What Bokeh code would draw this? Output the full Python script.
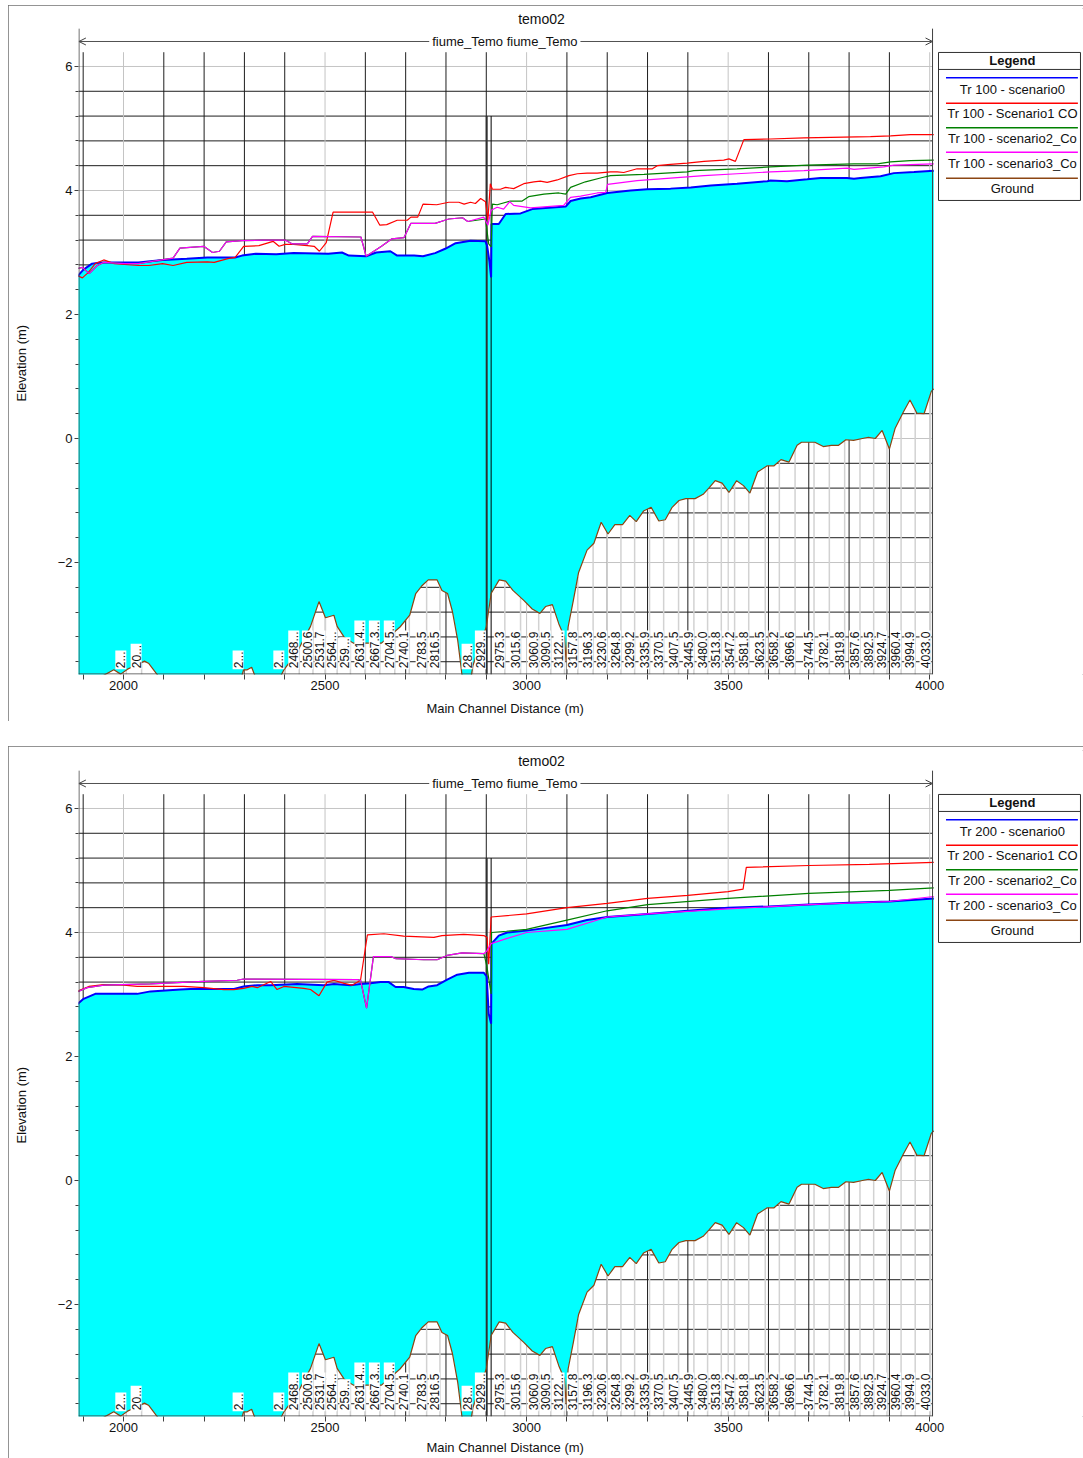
import numpy as np
from bokeh.plotting import figure
from bokeh.layouts import column
from bokeh.models import Range1d, FixedTicker, Label, Arrow, OpenHead
from bokeh.core.properties import value
from bokeh.embed import file_html
from bokeh.resources import INLINE

FONT = "Liberation Sans"

# ------------------------------------------------------------------ data
chart_title = "temo02"
river_label = "fiume_Temo fiume_Temo"
x_axis_label = "Main Channel Distance (m)"
y_axis_label = "Elevation (m)"

x_major_ticks = [2000, 2500, 3000, 3500, 4000]
x_minor_ticks = [1900, 2100, 2200, 2300, 2400, 2600, 2700, 2800, 2900,
                 3100, 3200, 3300, 3400, 3600, 3700, 3800, 3900]
y_major_ticks = [-2, 0, 2, 4, 6]
y_minor_ticks = [-3.6, -3.2, -2.8, -2.4, -1.6, -1.2, -0.8, -0.4, 0.4, 0.8,
                 1.2, 1.6, 2.4, 2.8, 3.2, 3.6, 4.4, 4.8, 5.2, 5.6]

station_labels = ["2...", "20...", "2...", "2...", "2468...", "2500.6", "2531.7",
                  "2564...", "259...", "2631.4...", "2667.3...", "2704.5...",
                  "2740.1", "2783.5", "2816.5", "28...", "2929...", "2975.3",
                  "3015.6", "3060.9", "3090.5", "3122...", "3157.8", "3196.3",
                  "3230.6", "3264.8", "3299.2", "3335.9", "3370.5", "3407.5",
                  "3445.9", "3480.0", "3513.8", "3547.2", "3581.8", "3623.5",
                  "3658.2", "3696.6", "3744.5", "3782.1", "3819.8", "3857.6",
                  "3892.5", "3924.7", "3960.4", "3994.9", "4033.0"]
station_dist = [2007, 2045, 2298, 2399, 2436, 2470, 2501, 2530, 2563, 2600,
                2636, 2673, 2709, 2752, 2785, 2866, 2899, 2946, 2985, 3030,
                3060, 3094, 3127, 3165, 3200, 3234, 3268, 3305, 3340, 3377,
                3415, 3449, 3483, 3516, 3551, 3592, 3627, 3666, 3713, 3751,
                3789, 3827, 3861, 3894, 3929, 3964, 4002]

weir_dist = [2901, 2912]
weir_top = 5.2

ground = [(1885, -4.6), (1945, -4.0), (1951, -3.82), (1976, -3.73), (1993, -3.8),
          (2010, -3.72), (2030, -3.66), (2052, -3.59), (2063, -3.63), (2085, -3.82),
          (2100, -4.2), (2280, -4.2), (2294, -3.82), (2298, -3.73), (2307, -3.73),
          (2318, -3.69), (2325, -3.81), (2340, -4.1), (2380, -4.1), (2391, -3.82),
          (2398, -3.73), (2430, -3.45), (2464, -3.03), (2485, -2.63), (2501, -2.89),
          (2522, -2.85), (2530, -3.03), (2547, -3.2), (2570, -3.3), (2600, -3.3),
          (2640, -3.3), (2686, -3.04), (2710, -2.85), (2725, -2.5), (2741, -2.37),
          (2756, -2.28), (2778, -2.28), (2790, -2.45), (2804, -2.5), (2816, -2.79),
          (2829, -3.25), (2838, -3.72), (2842, -3.95), (2858, -4.0), (2863, -3.82),
          (2867, -3.66), (2885, -3.3), (2900, -3.04), (2912, -2.5), (2932, -2.28),
          (2948, -2.3), (2966, -2.45), (2993, -2.61), (3014, -2.75), (3033, -2.82),
          (3047, -2.71), (3064, -2.68), (3080, -2.99), (3094, -3.2), (3098, -3.6),
          (3103, -3.04), (3116, -2.61), (3129, -2.16), (3150, -1.8), (3167, -1.69),
          (3185, -1.35), (3202, -1.54), (3219, -1.39), (3238, -1.39), (3256, -1.24),
          (3272, -1.34), (3290, -1.17), (3309, -1.11), (3328, -1.33), (3344, -1.31),
          (3361, -1.11), (3378, -1.0), (3395, -0.97), (3418, -0.97), (3438, -0.9),
          (3452, -0.8), (3468, -0.68), (3485, -0.72), (3502, -0.87), (3521, -0.68),
          (3538, -0.76), (3554, -0.88), (3573, -0.54), (3597, -0.44), (3614, -0.44),
          (3631, -0.34), (3651, -0.38), (3671, -0.11), (3682, -0.06), (3715, -0.06),
          (3736, -0.13), (3756, -0.11), (3774, -0.11), (3792, -0.02), (3811, -0.03),
          (3833, 0.0), (3848, 0.02), (3865, 0.0), (3882, 0.13), (3900, -0.17),
          (3914, 0.16), (3934, 0.42), (3951, 0.62), (3968, 0.41), (3986, 0.40),
          (4004, 0.76), (4010, 0.80)]

# ---- Tr 100 water surfaces
ws100_s0 = [(1885, 2.61), (1900, 2.72), (1922, 2.82), (1943, 2.84), (2037, 2.84),
            (2097, 2.88), (2157, 2.90), (2208, 2.92), (2277, 2.92), (2294, 2.95),
            (2328, 2.98), (2379, 2.97), (2422, 2.99), (2508, 2.98), (2542, 3.00),
            (2559, 2.95), (2602, 2.94), (2627, 3.00), (2662, 3.02), (2679, 2.95),
            (2721, 2.95), (2743, 2.94), (2773, 2.99), (2798, 3.06), (2824, 3.15),
            (2861, 3.19), (2898, 3.18), (2902, 3.11), (2908, 2.85), (2912, 2.60),
            (2913, 3.46), (2931, 3.46), (2948, 3.62), (2985, 3.63), (3014, 3.70),
            (3097, 3.74), (3109, 3.83), (3134, 3.87), (3159, 3.89), (3200, 3.96),
            (3258, 4.00), (3299, 4.02), (3357, 4.03), (3407, 4.05), (3457, 4.08),
            (3522, 4.11), (3597, 4.15), (3605, 4.16), (3646, 4.15), (3696, 4.18),
            (3729, 4.20), (3795, 4.20), (3812, 4.19), (3828, 4.20), (3878, 4.23),
            (3911, 4.28), (3961, 4.30), (4010, 4.32)]
ws100_s1 = [(1885, 2.63), (1898, 2.59), (1913, 2.68), (1930, 2.82), (1951, 2.88),
            (1977, 2.82), (2037, 2.79), (2063, 2.79), (2097, 2.82), (2123, 2.79),
            (2157, 2.84), (2208, 2.85), (2225, 2.84), (2259, 2.90), (2277, 2.92),
            (2298, 3.10), (2336, 3.11), (2371, 3.18), (2386, 3.10), (2401, 3.13),
            (2422, 3.13), (2456, 3.11), (2473, 3.10), (2486, 3.02), (2503, 3.16),
            (2520, 3.65), (2618, 3.65), (2636, 3.44), (2653, 3.45), (2679, 3.52),
            (2704, 3.52), (2713, 3.57), (2730, 3.57), (2743, 3.78), (2777, 3.77),
            (2807, 3.81), (2832, 3.81), (2845, 3.78), (2861, 3.81), (2873, 3.79),
            (2886, 3.87), (2898, 3.82), (2904, 3.52), (2910, 4.11), (2915, 4.02),
            (2935, 4.02), (2948, 4.05), (2968, 4.03), (2993, 4.11), (3018, 4.14),
            (3034, 4.15), (3051, 4.13), (3076, 4.17), (3105, 4.24), (3126, 4.27),
            (3150, 4.28), (3175, 4.28), (3208, 4.30), (3225, 4.30), (3241, 4.29),
            (3274, 4.35), (3312, 4.35), (3324, 4.40), (3357, 4.42), (3398, 4.44),
            (3440, 4.47), (3489, 4.49), (3502, 4.51), (3518, 4.47), (3539, 4.82),
            (3605, 4.83), (3688, 4.85), (3853, 4.87), (3903, 4.88), (3952, 4.90),
            (4010, 4.90)]
ws100_s2 = [(1885, 2.74), (1898, 2.76), (1915, 2.66), (1935, 2.79), (1951, 2.84),
            (2003, 2.82), (2037, 2.82), (2063, 2.85), (2123, 2.91), (2140, 3.07),
            (2199, 3.10), (2221, 3.00), (2238, 3.02), (2255, 3.17), (2294, 3.19),
            (2345, 3.20), (2401, 3.20), (2418, 3.14), (2456, 3.14), (2469, 3.26),
            (2589, 3.25), (2602, 2.94), (2640, 3.10), (2666, 3.22), (2696, 3.24),
            (2713, 3.47), (2773, 3.47), (2807, 3.54), (2841, 3.56), (2854, 3.50),
            (2898, 3.54), (2906, 3.14), (2912, 3.09), (2915, 3.78), (2927, 3.77),
            (2960, 3.83), (2989, 3.83), (3005, 3.90), (3043, 3.94), (3080, 3.96),
            (3097, 3.94), (3109, 4.05), (3146, 4.14), (3188, 4.21), (3208, 4.24),
            (3291, 4.26), (3398, 4.30), (3415, 4.32), (3522, 4.35), (3605, 4.38),
            (3696, 4.41), (3812, 4.43), (3870, 4.43), (3903, 4.46), (3952, 4.48),
            (4010, 4.49)]
ws100_s3 = [(1885, 2.74), (1898, 2.76), (1915, 2.66), (1935, 2.79), (1951, 2.84),
            (2003, 2.82), (2037, 2.82), (2063, 2.85), (2123, 2.91), (2140, 3.07),
            (2199, 3.10), (2221, 3.00), (2238, 3.02), (2255, 3.17), (2294, 3.19),
            (2345, 3.20), (2401, 3.20), (2418, 3.14), (2456, 3.14), (2469, 3.26),
            (2589, 3.25), (2602, 2.94), (2640, 3.10), (2666, 3.22), (2696, 3.24),
            (2713, 3.47), (2773, 3.47), (2807, 3.54), (2841, 3.56), (2854, 3.50),
            (2894, 3.57), (2904, 3.44), (2912, 3.68), (2927, 3.73), (2943, 3.70),
            (2958, 3.82), (2968, 3.76), (2989, 3.74), (3010, 3.72), (3051, 3.74),
            (3092, 3.76), (3109, 3.89), (3134, 3.91), (3175, 3.96), (3196, 3.97),
            (3201, 4.10), (3274, 4.16), (3357, 4.20), (3440, 4.24), (3522, 4.27),
            (3605, 4.30), (3688, 4.32), (3795, 4.36), (3812, 4.34), (3886, 4.38),
            (3911, 4.41), (4010, 4.43)]

# ---- Tr 200 water surfaces
ws200_s0 = [(1885, 2.84), (1901, 2.93), (1930, 3.01), (2034, 3.01), (2067, 3.05),
            (2141, 3.08), (2166, 3.09), (2274, 3.09), (2298, 3.13), (2332, 3.15),
            (2365, 3.15), (2431, 3.17), (2497, 3.15), (2522, 3.17), (2563, 3.15),
            (2588, 3.17), (2613, 3.18), (2638, 3.20), (2658, 3.20), (2675, 3.12),
            (2695, 3.12), (2720, 3.09), (2741, 3.08), (2757, 3.13), (2778, 3.15),
            (2803, 3.24), (2828, 3.32), (2857, 3.35), (2894, 3.35), (2901, 3.29),
            (2906, 2.69), (2912, 2.53), (2913, 3.82), (2931, 3.95), (2952, 4.00),
            (3000, 4.03), (3100, 4.12), (3150, 4.20), (3200, 4.25), (3300, 4.30),
            (3400, 4.35), (3500, 4.40), (3600, 4.42), (3700, 4.45), (3800, 4.48),
            (3900, 4.50), (4010, 4.55)]
ws200_s1 = [(1885, 3.05), (1914, 3.13), (1951, 3.16), (2001, 3.15), (2034, 3.13),
            (2149, 3.13), (2199, 3.11), (2249, 3.08), (2274, 3.08), (2298, 3.10),
            (2319, 3.13), (2332, 3.11), (2365, 3.21), (2381, 3.08), (2398, 3.13),
            (2447, 3.10), (2464, 3.08), (2485, 2.98), (2505, 3.20), (2522, 3.23),
            (2547, 3.18), (2567, 3.15), (2588, 3.23), (2605, 3.96), (2646, 3.98),
            (2695, 3.94), (2770, 3.92), (2790, 3.95), (2844, 3.97), (2894, 3.95),
            (2902, 3.92), (2906, 3.49), (2912, 4.25), (3000, 4.30), (3100, 4.40),
            (3200, 4.47), (3300, 4.55), (3400, 4.60), (3500, 4.66), (3537, 4.70),
            (3545, 5.05), (3700, 5.08), (3850, 5.10), (4010, 5.13)]
ws200_s2 = [(1885, 3.04), (1910, 3.11), (1951, 3.15), (2067, 3.17), (2199, 3.21),
            (2282, 3.23), (2298, 3.25), (2580, 3.24), (2588, 3.23), (2603, 2.78),
            (2620, 3.61), (2663, 3.61), (2675, 3.58), (2745, 3.56), (2778, 3.56),
            (2803, 3.63), (2840, 3.67), (2894, 3.66), (2901, 3.47), (2912, 3.01),
            (2913, 4.00), (2950, 4.02), (3000, 4.05), (3100, 4.20), (3200, 4.35),
            (3300, 4.45), (3500, 4.55), (3700, 4.63), (3900, 4.68), (4010, 4.72)]
ws200_s3 = [(1885, 3.04), (1910, 3.11), (1951, 3.15), (2067, 3.17), (2199, 3.21),
            (2282, 3.23), (2298, 3.25), (2580, 3.24), (2588, 3.23), (2603, 2.78),
            (2620, 3.61), (2663, 3.61), (2675, 3.58), (2745, 3.56), (2778, 3.56),
            (2803, 3.63), (2840, 3.67), (2894, 3.66), (2901, 3.70), (2912, 3.82),
            (2950, 3.90), (3000, 4.00), (3100, 4.05), (3200, 4.25), (3300, 4.30),
            (3500, 4.38), (3700, 4.45), (3900, 4.50), (4010, 4.58)]

legend_tr100 = ["Tr 100 - scenario0", "Tr 100 - Scenario1 CO", "Tr 100 - scenario2_Co",
                "Tr 100 - scenario3_Co", "Ground"]
legend_tr200 = ["Tr 200 - scenario0", "Tr 200 - Scenario1 CO", "Tr 200 - scenario2_Co",
                "Tr 200 - scenario3_Co", "Ground"]

# ------------------------------------------------------------------ styling / geometry
COLORS = ["#0000ff", "#ff0000", "#008000", "#ff00ff", "#8b4513"]
WIDTHS = [2.0, 1.2, 1.2, 1.2]
X0, X1 = 1888.4, 4381.5        # frame x-range
XR = 4007.0                    # right plot edge
Y0, Y1 = -3.806, 6.935         # frame y-range
YTOP_AXIS = 6.61
YTOP_GRID = 6.23
GRID_MAJOR = "#c4c4c4"
GRID_MINOR = "#1e1e1e"
AXIS_COL = "#404040"
NBSP = "\u00a0"


def xy(pairs):
    return [a for a, _ in pairs], [b for _, b in pairs]


def make_panel(series, legend_names, height, mbt, mbb, margin, xlab_standoff):
    p = figure(width=1075, height=height, x_range=Range1d(X0, X1),
               y_range=Range1d(Y0, Y1), output_backend="svg",
               toolbar_location=None, min_border_left=70, min_border_right=0,
               min_border_top=mbt, min_border_bottom=mbb, margin=margin,
               background_fill_color="white", border_fill_color="white",
               outline_line_color=None,
               styles={"outline": "1px solid #707070", "outline-offset": "-1px"})
    p.xgrid.visible = False
    p.ygrid.visible = False

    # axes
    p.xaxis.ticker = FixedTicker(ticks=x_major_ticks, minor_ticks=x_minor_ticks)
    p.yaxis.ticker = FixedTicker(ticks=y_major_ticks, minor_ticks=y_minor_ticks)
    for ax in (p.xaxis, p.yaxis):
        ax.axis_line_color = None
        ax.major_tick_in = 0
        ax.minor_tick_in = 0
        ax.major_tick_line_color = AXIS_COL
        ax.minor_tick_line_color = AXIS_COL
        ax.major_label_text_font = FONT
        ax.major_label_text_font_size = "13px"
        ax.major_label_text_color = "#111111"
        ax.axis_label_text_font = FONT
        ax.axis_label_text_font_size = "13px"
        ax.axis_label_text_font_style = "normal"
        ax.axis_label_text_color = "#111111"
    p.xaxis.major_tick_out = 5
    p.xaxis.minor_tick_out = 5
    p.xaxis.major_label_standoff = 1
    p.yaxis.major_tick_out = 4
    p.yaxis.minor_tick_out = 3
    p.yaxis.major_label_standoff = 2
    # axis titles: trailing non-breaking spaces shift them to sit under / beside
    # the plotted region rather than the whole frame (which also holds the legend)
    p.xaxis.axis_label = x_axis_label + NBSP * 42
    p.xaxis.axis_label_standoff = xlab_standoff
    p.yaxis.axis_label = y_axis_label + NBSP * 12
    p.yaxis.axis_label_standoff = 26

    # grid
    hy = sorted(y_major_ticks + y_minor_ticks)
    hcol = [GRID_MAJOR if v in y_major_ticks else GRID_MINOR for v in hy]
    p.segment(x0=[X0] * len(hy), y0=hy, x1=[XR] * len(hy), y1=hy,
              line_color=hcol, line_width=1)
    vx = sorted(x_major_ticks + x_minor_ticks)
    vcol = [GRID_MAJOR if v in x_major_ticks else GRID_MINOR for v in vx]
    p.segment(x0=vx, y0=[Y0] * len(vx), x1=vx, y1=[YTOP_GRID] * len(vx),
              line_color=vcol, line_width=1)

    gx, gy = xy(ground)
    g_at = np.interp(station_dist, gx, gy)
    p.segment(x0=station_dist, y0=[Y0] * len(station_dist), x1=station_dist,
              y1=list(g_at), line_color="#d2d2d2", line_width=1.5)

    # water (scenario 0) fill
    bx, by = xy(series[0])
    p.patch(bx + gx[::-1], by + gy[::-1], fill_color="#00ffff", line_color=None)

    # inline structure
    p.segment(x0=weir_dist, y0=[Y0, Y0], x1=weir_dist, y1=[weir_top, weir_top],
              line_color=["#303030", "#000000"], line_width=[2, 1])

    # water surfaces
    for i, s in enumerate(series):
        sx, sy = xy(s)
        p.line(sx, sy, line_color=COLORS[i], line_width=WIDTHS[i])

    # ground
    p.line(gx, gy, line_color=COLORS[4], line_width=1.2)

    # station labels
    p.text(x=station_dist, y=[-3.72] * len(station_dist), text=station_labels,
           angle=np.pi / 2, text_align="left", text_baseline="bottom",
           text_font=value(FONT), text_font_size="12px", text_color="#111111",
           background_fill_color="white", padding=1)

    # axis frame lines
    p.segment(x0=[X0 + 1.2, XR, X0], y0=[Y0, Y0, Y0 + 0.008],
              x1=[X0 + 1.2, XR, XR], y1=[YTOP_AXIS, YTOP_AXIS, Y0 + 0.008],
              line_color=AXIS_COL, line_width=1)

    # title
    p.text(x=[3037], y=[6.76], text=[chart_title], text_align="center",
           text_baseline="middle", text_font=value(FONT), text_font_size="14px",
           text_color="#111111")

    # legend box
    LL, LR, LT, LB = 4021.8, 4374.0, 6.226, 3.839
    p.quad(left=[LL], right=[LR], top=[LT], bottom=[LB], fill_color="white",
           line_color="#303030", line_width=1)
    p.segment(x0=[LL], y0=[5.952], x1=[LR], y1=[5.952], line_color="#303030")
    p.text(x=[4205], y=[6.097], text=["Legend"], text_align="center",
           text_baseline="middle", text_font=value(FONT), text_font_size="13px",
           text_font_style="bold", text_color="#111111")
    line_y = [5.818, 5.408, 5.011, 4.618, 4.198]
    text_y = [5.624, 5.237, 4.834, 4.431, 4.027]
    p.segment(x0=[4040.4] * 5, y0=line_y, x1=[4367.6] * 5, y1=line_y,
              line_color=COLORS, line_width=1.5)
    p.text(x=[4205] * 5, y=text_y, text=legend_names, text_align="center",
           text_baseline="middle", text_font=value(FONT), text_font_size="13px",
           text_color="#111111")

    # river reach arrow (annotation) and its name on top of it
    p.add_layout(Arrow(start=OpenHead(size=7, line_color="#404040", line_width=1),
                       end=OpenHead(size=7, line_color="#404040", line_width=1),
                       x_start=X0 + 1, y_start=6.403, x_end=XR, y_end=6.403,
                       line_color="#505050", line_width=1))
    p.add_layout(Label(x=2946, y=6.403, text=river_label, text_align="center",
                       text_baseline="middle", text_font=FONT, text_font_size="13px",
                       text_color="#111111", background_fill_color="white",
                       padding=3))
    return p


p1 = make_panel([ws100_s0, ws100_s1, ws100_s2, ws100_s3], legend_tr100,
                716, 3, 47, (5, 0, 0, 8), 8)
p2 = make_panel([ws200_s0, ws200_s1, ws200_s2, ws200_s3], legend_tr200,
                712, 4, 42, (0, 0, 0, 8), 5)
layout = column(p1, p2, spacing=25)

open("out.html", "w").write(file_html(layout, INLINE))
